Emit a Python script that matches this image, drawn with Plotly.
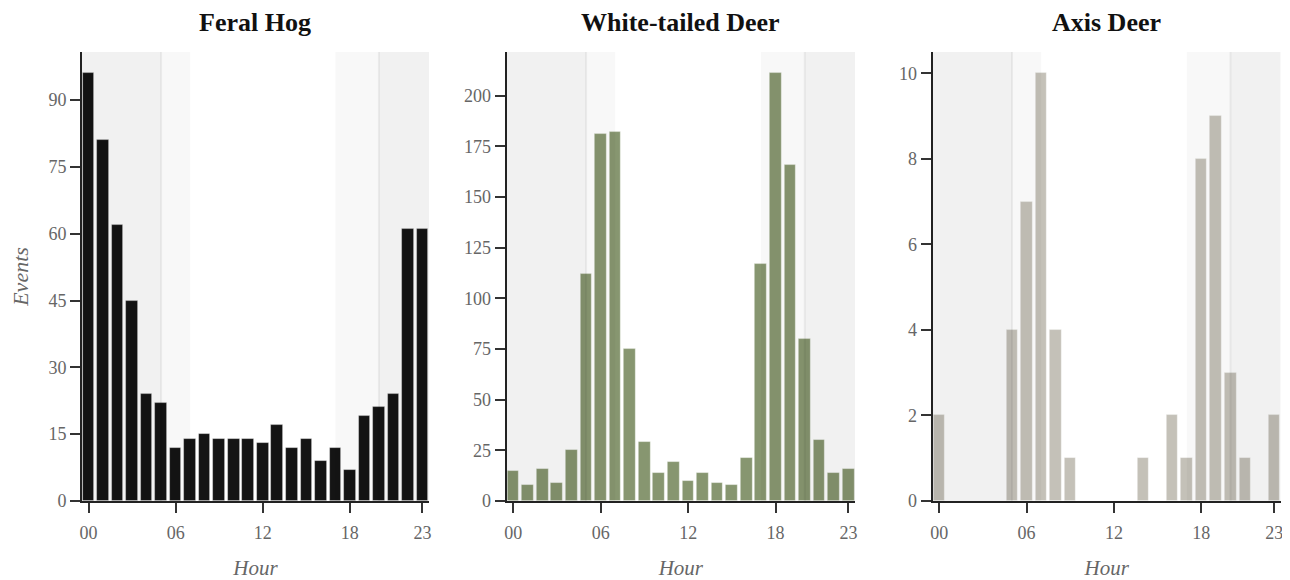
import plotly.graph_objects as go

hours = list(range(24))
hour_tick_vals = [0, 6, 12, 18, 23]
hour_tick_text = ["00", "06", "12", "18", "23"]

species = ["Feral Hog", "White-tailed Deer", "Axis Deer"]
feral_hog = [96, 81, 62, 45, 24, 22, 12, 14, 15, 14, 14, 14, 13, 17, 12, 14, 9, 12, 7, 19, 21, 24, 61, 61]
white_tailed = [15, 8, 16, 9, 25, 112, 181, 182, 75, 29, 14, 19, 10, 14, 9, 8, 21, 117, 211, 166, 80, 30, 14, 16]
axis_deer = [2, 0, 0, 0, 0, 4, 7, 10, 4, 1, 0, 0, 0, 0, 1, 0, 2, 1, 8, 9, 3, 1, 0, 2]
series = [feral_hog, white_tailed, axis_deer]
colors = ["#141414", "#879670", "#c4c1b8"]
y_ticks = [[0, 15, 30, 45, 60, 75, 90], [0, 25, 50, 75, 100, 125, 150, 175, 200], [0, 2, 4, 6, 8, 10]]
y_max = [100.8, 221.5, 10.5]

# night / twilight bounds (hours)
night_end, dawn_end = 5, 7
dusk_start, night_start = 17, 20

OFF = 8  # default page body margin
W, H = 1290 - OFF, 580 - OFF
x_dom_px = [(82, 429), (506.7, 855), (932.7, 1280.7)]
y_dom = [1 - (501 - OFF) / H, 1 - (52 - OFF) / H]
x_range = [-0.45, 23.45]

fig = go.Figure()
shapes = []
annotations = []
font_serif = "Liberation Serif, Times New Roman, serif"

for i, (name, vals, col) in enumerate(zip(species, series, colors)):
    sfx = "" if i == 0 else str(i + 1)
    fig.add_trace(go.Bar(
        x=hours, y=vals, width=0.8,
        marker=dict(color=col, line=dict(color="rgba(255,255,255,0.45)", width=0.8)),
        xaxis="x" + sfx, yaxis="y" + sfx, showlegend=False, name=name,
    ))
    xd = [(x_dom_px[i][0] - OFF) / W, (x_dom_px[i][1] - OFF) / W]
    fig.update_layout(**{
        "xaxis" + sfx: dict(
            domain=xd, range=x_range, anchor="y" + sfx, automargin=False,
            tickmode="array", tickvals=hour_tick_vals, ticktext=hour_tick_text,
            ticks="outside", ticklen=10, tickwidth=2, tickcolor="#333333",
            ticklabelstandoff=4,
            showline=True, linecolor="#222222", linewidth=2,
            showgrid=False, zeroline=False,
            tickfont=dict(family=font_serif, size=18, color="#666666"),
            title=dict(text="<i>Hour</i>", font=dict(family=font_serif, size=21, color="#666666"), standoff=20),
        ),
        "yaxis" + sfx: dict(
            domain=y_dom, range=[0, y_max[i]], anchor="x" + sfx, automargin=False,
            tickmode="array", tickvals=y_ticks[i],
            ticks="outside", ticklen=10, tickwidth=2, tickcolor="#333333",
            showline=True, linecolor="#222222", linewidth=2,
            showgrid=False, zeroline=False,
            tickfont=dict(family=font_serif, size=18, color="#666666"),
            title=dict(text="<i>Events</i>" if i == 0 else "", font=dict(family=font_serif, size=22, color="#666666"), standoff=14),
        ),
    })
    xr = "x" + sfx
    yr = "y" + sfx + " domain"
    shade = "rgba(0,0,0,0.029)"
    for (a, b) in [(x_range[0], dawn_end), (x_range[0], night_end), (dusk_start, x_range[1]), (night_start, x_range[1])]:
        shapes.append(dict(type="rect", xref=xr, yref=yr, x0=a, x1=b, y0=0, y1=1,
                           fillcolor=shade, line=dict(width=0), layer="above"))
    for xv in [night_end, night_start]:
        shapes.append(dict(type="line", xref=xr, yref=yr, x0=xv, x1=xv, y0=0, y1=1,
                           line=dict(color="rgba(0,0,0,0.055)", width=2), layer="above"))
    annotations.append(dict(
        text="<b>" + name + "</b>", xref="paper", yref="paper",
        x=(xd[0] + xd[1]) / 2, y=1 - (22 - OFF) / H, xanchor="center", yanchor="middle",
        showarrow=False, font=dict(family=font_serif, size=26, color="#111111"),
    ))

fig.update_layout(
    width=W, height=H, margin=dict(l=0, r=0, t=0, b=0, autoexpand=False),
    paper_bgcolor="white", plot_bgcolor="white",
    shapes=shapes, annotations=annotations, bargap=0,
)
fig.write_html("out.html")
